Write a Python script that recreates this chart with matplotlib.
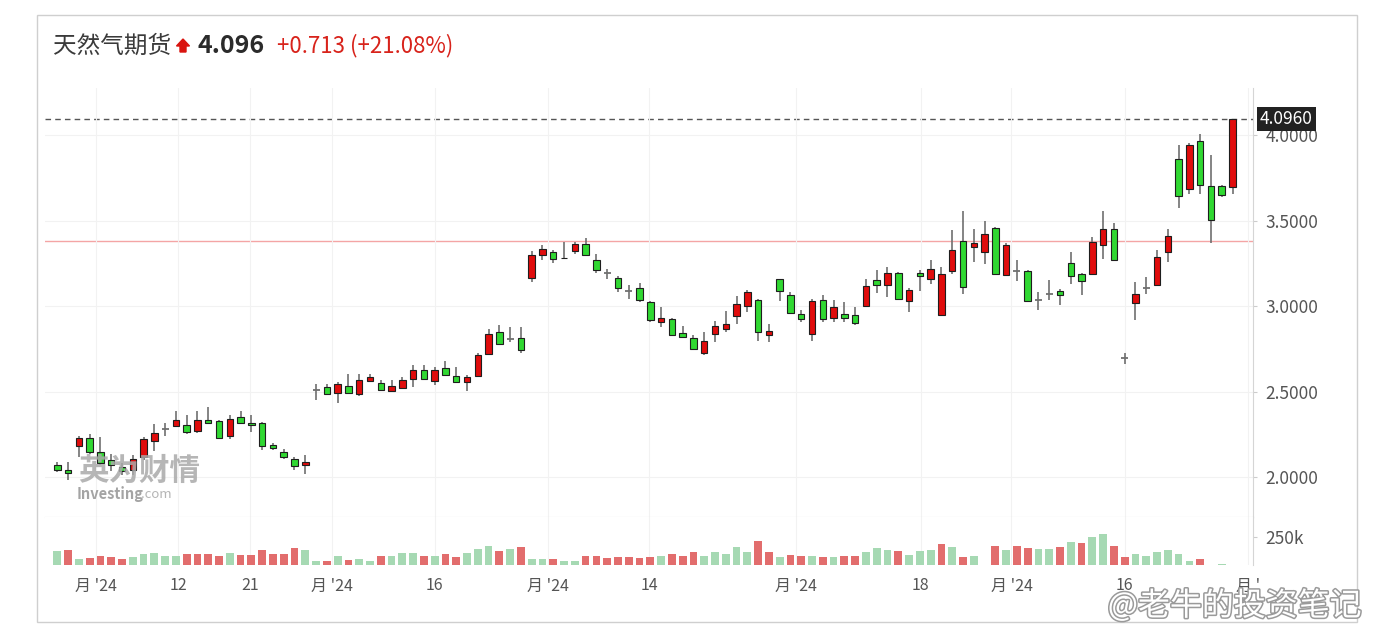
import numpy as np
import matplotlib.pyplot as plt
from matplotlib.patches import Rectangle, Polygon
import matplotlib.patheffects as pe

plt.rcParams['font.family'] = ['Noto Sans CJK SC', 'DejaVu Sans']

# ====================== DATI ======================
opens = [2.070, 2.045, 2.181, 2.232, 2.148, 2.103, 2.060, 2.040, 2.120, 2.212,
         2.285, 2.300, 2.308, 2.273, 2.337, 2.327, 2.244, 2.352, 2.318, 2.320,
         2.191, 2.148, 2.109, 2.070, 2.513, 2.528, 2.495, 2.534, 2.485, 2.563,
         2.551, 2.505, 2.522, 2.573, 2.630, 2.563, 2.640, 2.592, 2.557, 2.590,
         2.719, 2.850, 2.811, 2.817, 3.168, 3.298, 3.318, 3.285, 3.323, 3.366,
         3.269, 3.195, 3.168, 3.089, 3.109, 3.025, 2.911, 2.928, 2.844, 2.817,
         2.730, 2.840, 2.865, 2.942, 3.004, 3.039, 2.830, 3.158, 3.064, 2.957,
         2.840, 3.035, 2.934, 2.953, 2.947, 3.000, 3.152, 3.123, 3.195, 3.034,
         3.195, 3.158, 2.947, 3.207, 3.381, 3.347, 3.320, 3.460, 3.181, 3.205,
         3.205, 3.035, 3.073, 3.088, 3.255, 3.187, 3.187, 3.357, 3.454, 2.700,
         3.022, 3.109, 3.123, 3.319, 3.863, 3.689, 3.967, 3.702, 3.702, 3.698]
highs = [2.090, 2.090, 2.240, 2.255, 2.235, 2.135, 2.084, 2.130, 2.235, 2.313,
         2.319, 2.388, 2.363, 2.388, 2.411, 2.333, 2.363, 2.386, 2.367, 2.323,
         2.200, 2.168, 2.119, 2.129, 2.544, 2.544, 2.557, 2.606, 2.602, 2.602,
         2.567, 2.567, 2.586, 2.655, 2.655, 2.645, 2.680, 2.645, 2.596, 2.727,
         2.869, 2.889, 2.879, 2.879, 3.323, 3.357, 3.331, 3.377, 3.377, 3.401,
         3.304, 3.220, 3.178, 3.123, 3.136, 3.031, 2.996, 2.934, 2.883, 2.830,
         2.850, 2.914, 2.972, 3.058, 3.094, 3.045, 2.899, 3.162, 3.084, 2.977,
         3.045, 3.064, 3.039, 3.025, 2.996, 3.162, 3.215, 3.232, 3.201, 3.109,
         3.211, 3.273, 3.230, 3.444, 3.556, 3.454, 3.500, 3.464, 3.370, 3.273,
         3.211, 3.084, 3.152, 3.103, 3.318, 3.195, 3.405, 3.556, 3.487, 2.727,
         3.142, 3.171, 3.331, 3.454, 3.942, 3.955, 4.006, 3.883, 3.708, 4.096]
lows = [2.032, 1.987, 2.120, 2.135, 2.070, 2.037, 2.012, 2.012, 2.103, 2.154,
        2.240, 2.294, 2.255, 2.260, 2.314, 2.229, 2.224, 2.310, 2.267, 2.162,
        2.158, 2.105, 2.041, 2.018, 2.455, 2.480, 2.434, 2.489, 2.475, 2.557,
        2.505, 2.499, 2.515, 2.528, 2.567, 2.538, 2.592, 2.551, 2.503, 2.586,
        2.713, 2.772, 2.791, 2.730, 3.142, 3.273, 3.254, 3.280, 3.308, 3.292,
        3.195, 3.162, 3.084, 3.045, 3.025, 2.908, 2.879, 2.824, 2.817, 2.745,
        2.713, 2.791, 2.850, 2.899, 2.969, 2.797, 2.791, 3.031, 2.957, 2.908,
        2.797, 2.908, 2.908, 2.908, 2.889, 2.996, 3.078, 3.054, 3.039, 2.967,
        3.089, 3.133, 2.947, 3.191, 3.070, 3.259, 3.249, 3.187, 3.175, 3.146,
        3.025, 2.977, 3.035, 3.006, 3.133, 3.064, 3.181, 3.278, 3.265, 2.665,
        2.918, 3.074, 3.123, 3.259, 3.577, 3.658, 3.655, 3.371, 3.640, 3.655]
closes = [2.045, 2.025, 2.232, 2.148, 2.084, 2.070, 2.035, 2.109, 2.224, 2.259,
          2.285, 2.333, 2.267, 2.333, 2.318, 2.232, 2.343, 2.318, 2.304, 2.181,
          2.174, 2.119, 2.064, 2.090, 2.513, 2.489, 2.544, 2.495, 2.567, 2.586,
          2.513, 2.532, 2.567, 2.630, 2.573, 2.630, 2.600, 2.557, 2.586, 2.713,
          2.840, 2.778, 2.811, 2.747, 3.298, 3.337, 3.279, 3.281, 3.366, 3.298,
          3.210, 3.195, 3.109, 3.089, 3.035, 2.918, 2.934, 2.830, 2.820, 2.752,
          2.797, 2.883, 2.895, 3.012, 3.084, 2.850, 2.854, 3.089, 2.963, 2.928,
          3.031, 2.928, 2.996, 2.934, 2.902, 3.117, 3.123, 3.195, 3.045, 3.094,
          3.175, 3.220, 3.187, 3.331, 3.111, 3.370, 3.425, 3.191, 3.357, 3.205,
          3.031, 3.035, 3.073, 3.064, 3.175, 3.148, 3.376, 3.454, 3.269, 2.700,
          3.074, 3.109, 3.288, 3.409, 3.643, 3.942, 3.708, 3.503, 3.649, 4.096]

# volume in migliaia, 1 = rosso, 0 = verde
volumes = [122, 134, 54, 60, 77, 69, 54, 75, 98, 107,
           83, 83, 98, 98, 98, 83, 107, 89, 89, 134,
           98, 98, 149, 134, 39, 39, 83, 45, 54, 39,
           83, 83, 104, 107, 83, 83, 98, 69, 107, 143,
           173, 122, 143, 164, 54, 54, 54, 39, 39, 83,
           83, 60, 69, 69, 60, 69, 83, 98, 83, 113,
           80, 119, 98, 161, 119, 212, 119, 69, 92, 83,
           83, 69, 69, 83, 83, 119, 149, 134, 122, 89,
           128, 134, 188, 158, 69, 83, 0, 173, 134, 173,
           149, 143, 143, 164, 209, 197, 247, 277, 173, 69,
           98, 83, 113, 134, 98, 39, 54, 0, 9, 0]
vol_red = [0, 1, 0, 1, 1, 1, 1, 0, 0, 0,
           0, 0, 1, 1, 1, 1, 0, 1, 1, 1,
           1, 1, 1, 0, 0, 1, 0, 1, 0, 0,
           1, 0, 0, 0, 1, 0, 1, 1, 0, 0,
           0, 1, 0, 1, 0, 0, 1, 0, 0, 1,
           1, 1, 1, 1, 1, 1, 0, 1, 1, 1,
           0, 0, 0, 0, 0, 1, 1, 0, 1, 1,
           0, 1, 0, 1, 1, 0, 0, 0, 1, 0,
           0, 0, 1, 0, 1, 0, 0, 1, 0, 1,
           1, 0, 0, 1, 0, 1, 0, 0, 1, 1,
           0, 0, 0, 0, 0, 0, 1, 0, 0, 0]

tick_pos = [3.6, 11.2, 17.9, 25.5, 35.0, 45.5, 54.9, 68.5, 80.1, 88.5, 99.0, 110.45]
tick_lab = ["月 '24", '12', '21', "月 '24", '16', "月 '24", '14', "月 '24", '18', "月 '24", '16', "月 '"]
price_ticks = [2.0, 2.5, 3.0, 3.5, 4.0]
last_price = 4.096
prev_close = 3.383

# ====================== COLORI ======================
c_up, c_down = '#e00c0c', '#30d832'
v_up, v_down = '#e26d6d', '#a6d9b3'
wick_c = '#6f6f6f'

# ====================== FIGURA ======================
W, H = 1382, 642
fig = plt.figure(figsize=(W / 100, H / 100), dpi=100)


def px_rect(l, t, r, b):
    return [l / W, 1 - b / H, (r - l) / W, (b - t) / H]


ax = fig.add_axes(px_rect(45, 88, 1253, 517))
axv = fig.add_axes(px_rect(45, 517, 1253, 565), sharex=ax)

o = np.array(opens); h = np.array(highs); l = np.array(lows); c = np.array(closes)
x = np.arange(len(o))

# stoppini
ax.vlines(x, l, h, color=wick_c, linewidth=1.2, zorder=2)

# corpi
body = np.abs(c - o)
full = body > 0.003
cols = np.where(c >= o, c_up, c_down)
ax.bar(x[full], body[full], bottom=np.minimum(o, c)[full], width=0.6,
       color=cols[full], edgecolor='#1e1e1e', linewidth=0.8, zorder=3)
# croci (doji)
ax.hlines(c[~full], x[~full] - 0.32, x[~full] + 0.32, color=wick_c, linewidth=1.3, zorder=3)

# linee di riferimento
ax.axhline(last_price, color='#555555', linestyle=(0, (4, 3)), linewidth=1.0, zorder=1)
ax.axhline(prev_close, color='#f4a5a5', linewidth=1.0, zorder=1)

ax.set_xlim(-1.14, 110.9)
ax.set_ylim(1.768, 4.277)
ax.yaxis.tick_right()
ax.set_yticks(price_ticks, [f'{v:.4f}' for v in price_ticks])
ax.tick_params(axis='y', length=3, color='#cccccc', labelcolor='#555555', labelsize=12.5, pad=6)
ax.tick_params(axis='x', length=0, labelbottom=False)
ax.set_xticks(tick_pos)
ax.grid(True, color='#f2f2f2', linewidth=0.8, zorder=0)
for s in ['top', 'left']:
    ax.spines[s].set_visible(False)
ax.spines['right'].set_color('#d5d5d5')
ax.spines['bottom'].set_color('#d0d0d0')

ax.annotate(f'{last_price:.4f}', xy=(1.0055, last_price), xycoords=('axes fraction', 'data'),
            ha='left', va='center', fontsize=12.5, color='white', zorder=10,
            bbox=dict(boxstyle='square,pad=0.18', fc='#222222', ec='none'),
            annotation_clip=False)

# volume
vol = np.array(volumes)
vr = np.array(vol_red)
vm = vol > 0
axv.bar(x[vm], vol[vm], width=0.72, color=np.where(vr == 1, v_up, v_down)[vm], zorder=2)
axv.set_ylim(0, 428.6)
axv.yaxis.tick_right()
axv.set_yticks([250], ['250k'])
axv.tick_params(axis='y', length=3, color='#cccccc', labelcolor='#555555', labelsize=12.5, pad=6)
axv.set_xticks(tick_pos, tick_lab)
axv.tick_params(axis='x', length=0, labelcolor='#555555', labelsize=11.5, pad=9)
axv.grid(True, axis='x', color='#f2f2f2', linewidth=0.8, zorder=0)
for s in ['top', 'left', 'bottom']:
    axv.spines[s].set_visible(False)
axv.spines['right'].set_color('#d5d5d5')

# cornice esterna
fig.patches.append(Rectangle((37 / W, 1 - 622 / H), 1320 / W, 607 / H, transform=fig.transFigure,
                             fill=False, edgecolor='#cfcfcf', linewidth=1.0))

# titolo
ty = 1 - 46 / H
fig.text(53 / W, ty, '天然气期货', fontsize=17, color='#3a3a3a', va='center', ha='left')
arrow = [(183, 39), (189.5, 46), (186, 46), (186, 52), (180, 52), (180, 46), (176.5, 46)]
fig.patches.append(Polygon([(px / W, 1 - py / H) for px, py in arrow], closed=True,
                           transform=fig.transFigure, color='#d9140f'))
fig.text(198 / W, ty, '4.096', fontsize=18, fontweight='bold', color='#2b2b2b', va='center', ha='left')
fig.text(277 / W, ty, '+0.713 (+21.08%)', fontsize=16, fontweight='medium', color='#d8231b',
         va='center', ha='left')

# filigrana
fig.text(78 / W, 1 - 471 / H, '英为财情', fontsize=22, fontweight='bold', color='#a9a9a9',
         alpha=0.85, va='center', ha='left', zorder=5)
fig.text(77 / W, 1 - 494 / H, 'Investing', fontsize=10.5, fontweight='bold', color='#9a9a9a',
         alpha=0.9, va='center', ha='left', zorder=5)
fig.text(141 / W, 1 - 495 / H, '.com', fontsize=9.5, color='#b5b5b5',
         va='center', ha='left', zorder=5)

fig.text(1362 / W, 1 - 606 / H, '@老牛的投资笔记', fontsize=23, color='white', va='center', ha='right',
         path_effects=[pe.withStroke(linewidth=2.2, foreground='#9a9a9a')], zorder=20)

plt.savefig('out.png', dpi=100)
